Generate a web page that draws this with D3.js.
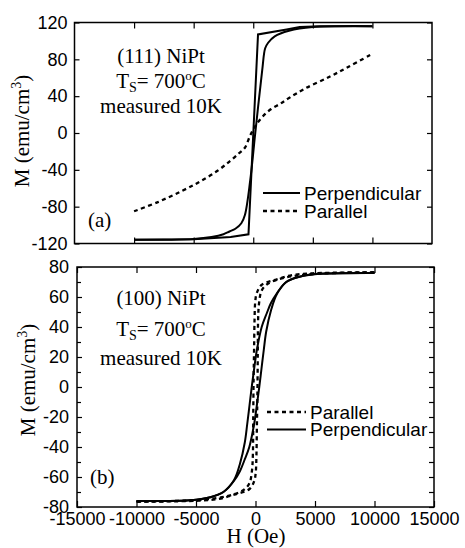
<!DOCTYPE html>
<meta charset="utf-8">
<head>
  <title>NiPt M-H loops</title>
</head>

<style>
body {
  margin: 0;
  background: #fff;
}
svg text { fill: #000; }
.tick text { font-family: "Liberation Sans", Arial, Helvetica, sans-serif; font-size: 18px; }
.serif { font-family: "Liberation Serif", "Times New Roman", serif; font-size: 21px; }
.legend { font-family: "Liberation Sans", Arial, Helvetica, sans-serif; font-size: 19px; }
</style>

<body>
  <div id="content">
    <svg width="465" height="548"></svg>
  </div>

  <script src="https://cdnjs.cloudflare.com/ajax/libs/d3/7.8.5/d3.min.js"></script>

  <script>
// field axis (Oe), shared by both panels
var hTicks = [-15000, -10000, -5000, 0, 5000, 10000, 15000];

// (a) (111) NiPt, M in emu/cm3
var mTicksA = [-120, -80, -40, 0, 40, 80, 120];
var perpA1 = [[10000, 116], [5600, 116], [3900, 115], [2800, 112.4], [400, 107], [-400, -110],
  [-1900, -113], [-5000, -115.5], [-10000, -116]];
var perpA2 = [[-10000, -116], [-5000, -115], [-3500, -113], [-2500, -110], [-2000, -107],
  [-1500, -104], [-1000, -98], [-700, -89], [-250, -51], [170, 0], [750, 68], [1000, 92],
  [1250, 98], [1800, 105], [3000, 111], [5000, 115], [10000, 116]];
var parA = [[-10000, -85], [-8000, -75], [-6000, -63], [-4500, -53], [-3000, -41], [-2000, -31],
  [-1200, -22], [-700, -16], [-300, -4], [0, 4], [300, 10], [800, 18], [1500, 26], [2300, 32],
  [3000, 38], [4300, 48], [6400, 61], [8000, 72], [10000, 86]];

// (b) (100) NiPt
var mTicksB = [-80, -60, -40, -20, 0, 20, 40, 60, 80];
var mMinorB = [-70, -50, -30, -10, 10, 30, 50, 70];
var perpBdown = [[10000, 76], [5000, 75.3], [3700, 73.5], [2600, 70.2], [1800, 62.5], [1300, 56],
  [940, 49], [520, 40], [100, 24], [-100, 13], [-300, 1], [-500, -12], [-700, -25], [-900, -37],
  [-1300, -51], [-1800, -62], [-2700, -70], [-3800, -73.5], [-5200, -75.3], [-10000, -76]];
var perpBup = [[-10000, -76], [-5200, -75.3], [-3800, -73.5], [-2700, -70], [-1800, -62.5],
  [-1300, -56], [-940, -49], [-520, -40], [-100, -24], [100, -13], [300, -1], [500, 12],
  [700, 25], [900, 37], [1300, 51], [1800, 62], [2600, 70], [3700, 73.5], [5200, 75.3], [10000, 76]];
var parBdown = [[10000, 76.5], [4800, 75.8], [3150, 74.7], [1800, 71.8], [500, 68], [100, 62.5],
  [-20, 57], [-80, 45], [-120, 25], [-160, 5], [-190, -20], [-220, -45], [-300, -56], [-500, -64],
  [-900, -68], [-1800, -71.5], [-3200, -74], [-5200, -75.5], [-10000, -76.5]];
var parBup = [[-10000, -76.5], [-4800, -75.8], [-3150, -74.7], [-1800, -71.8], [-500, -68],
  [-100, -62.5], [20, -57], [80, -45], [120, -25], [160, -5], [190, 20], [220, 45], [300, 56],
  [500, 64], [900, 68], [1800, 71.5], [3200, 74], [5200, 75.5], [10000, 76.5]];

var svg = d3.select('#content svg');
var plain = function(d) { return String(d); };

function frame(x, y) {
  svg.append('rect')
    .attr('x', x.range()[0]).attr('y', y.range()[1])
    .attr('width', x.range()[1] - x.range()[0])
    .attr('height', y.range()[0] - y.range()[1])
    .attr('fill', 'none').attr('stroke', '#000').attr('stroke-width', 1.5);
}

function clean(g) {
  g.select('.domain').remove();
  g.selectAll('.tick line').attr('stroke', '#000').attr('stroke-width', 1.2);
  g.attr('font-size', null).attr('font-family', null);
}

function curve(data, x, y, dashed, smooth) {
  var line = d3.line()
    .x(function(d) { return x(d[0]); })
    .y(function(d) { return y(d[1]); })
    .curve(smooth ? d3.curveCatmullRom.alpha(0.5) : d3.curveLinear);
  svg.append('path')
    .datum(data)
    .attr('d', line)
    .attr('fill', 'none')
    .attr('stroke', '#000')
    .attr('stroke-width', dashed ? 2.3 : 2)
    .attr('stroke-linejoin', 'miter')
    .attr('stroke-dasharray', dashed ? '4,3.5' : null);
}

function yTitle(cx, cy) {
  var t = svg.append('text').attr('class', 'serif')
    .attr('text-anchor', 'middle')
    .attr('transform', 'translate(' + cx + ',' + cy + ') rotate(-90)');
  t.append('tspan').text('M (emu/cm');
  t.append('tspan').attr('font-size', 14).attr('dy', -8).text('3');
  t.append('tspan').attr('dy', 8).text(')');
}

function notes(cx, ys, sample) {
  svg.append('text').attr('class', 'serif').attr('text-anchor', 'middle')
    .attr('x', cx).attr('y', ys[0]).text(sample + ' NiPt');
  var t = svg.append('text').attr('class', 'serif').attr('text-anchor', 'middle')
    .attr('x', cx).attr('y', ys[1]);
  t.append('tspan').text('T');
  t.append('tspan').attr('font-size', 14).attr('dy', 4).text('S');
  t.append('tspan').attr('dy', -4).text('= 700');
  t.append('tspan').attr('font-size', 13).attr('dy', -8).text('o');
  t.append('tspan').attr('dy', 8).text('C');
  svg.append('text').attr('class', 'serif').attr('text-anchor', 'middle')
    .attr('x', cx).attr('y', ys[2]).text('measured 10K');
}

function legendItem(x0, x1, y, label, dashed) {
  svg.append('line')
    .attr('x1', x0).attr('x2', x1).attr('y1', y).attr('y2', y)
    .attr('stroke', '#000').attr('stroke-width', dashed ? 2.3 : 2)
    .attr('stroke-dasharray', dashed ? '4,3.5' : null);
  svg.append('text').attr('class', 'legend')
    .attr('x', x1 + 4).attr('y', y + 6.8).text(label);
}

// ---------- panel (a) ----------
var xA = d3.scaleLinear().domain([-15000, 15000]).range([74.5, 432]);
var yA = d3.scaleLinear().domain([-120, 120]).range([243.5, 22.5]);
var inner = hTicks.slice(1, -1);

svg.append('g').attr('transform', 'translate(0,243.5)')
  .call(d3.axisBottom(xA).tickValues(inner).tickSizeInner(-6).tickSizeOuter(0).tickFormat(''))
  .call(clean);
svg.append('g').attr('transform', 'translate(0,22.5)')
  .call(d3.axisTop(xA).tickValues(inner).tickSizeInner(-6).tickSizeOuter(0).tickFormat(''))
  .call(clean);
svg.append('g').attr('transform', 'translate(74.5,0)')
  .call(d3.axisLeft(yA).tickValues(mTicksA).tickSizeInner(-5).tickSizeOuter(0).tickPadding(7).tickFormat(plain))
  .call(clean);
svg.append('g').attr('transform', 'translate(432,0)')
  .call(d3.axisRight(yA).tickValues(mTicksA).tickSizeInner(-5).tickSizeOuter(0).tickFormat(''))
  .call(clean);
frame(xA, yA);

curve(parA, xA, yA, true, true);
curve(perpA1, xA, yA, false, false);
curve(perpA2, xA, yA, false, true);

yTitle(29, 131);
notes(161, [63, 88, 113], '(111)');
svg.append('text').attr('class', 'serif').attr('x', 88).attr('y', 227).text('(a)');
legendItem(263, 300, 193, 'Perpendicular', false);
legendItem(263, 300, 211, 'Parallel', true);

// ---------- panel (b) ----------
var xB = d3.scaleLinear().domain([-15000, 15000]).range([77, 434]);
var yB = d3.scaleLinear().domain([-80, 80]).range([507, 267]);

svg.append('g').attr('transform', 'translate(0,507)')
  .call(d3.axisBottom(xB).tickValues(hTicks).tickSizeInner(-6).tickSizeOuter(0).tickPadding(5).tickFormat(plain))
  .call(clean);
svg.append('g').attr('transform', 'translate(0,267)')
  .call(d3.axisTop(xB).tickValues(hTicks).tickSizeInner(-6).tickSizeOuter(0).tickFormat(''))
  .call(clean);
svg.append('g').attr('transform', 'translate(77,0)')
  .call(d3.axisLeft(yB).tickValues(mTicksB).tickSizeInner(-5).tickSizeOuter(0).tickPadding(8).tickFormat(plain))
  .call(clean);
svg.append('g').attr('transform', 'translate(77,0)')
  .call(d3.axisLeft(yB).tickValues(mMinorB).tickSizeInner(-4).tickSizeOuter(0).tickFormat(''))
  .call(clean);
svg.append('g').attr('transform', 'translate(434,0)')
  .call(d3.axisRight(yB).tickValues(mTicksB.concat(mMinorB)).tickSizeInner(-5).tickSizeOuter(0).tickFormat(''))
  .call(clean);
frame(xB, yB);

curve(parBdown, xB, yB, true, true);
curve(parBup, xB, yB, true, true);
curve(perpBdown, xB, yB, false, true);
curve(perpBup, xB, yB, false, true);

yTitle(35, 380);
notes(161, [305, 336, 365], '(100)');
svg.append('text').attr('class', 'serif').attr('x', 90).attr('y', 484).text('(b)');
legendItem(267, 306, 412, 'Parallel', true);
legendItem(267, 306, 429.5, 'Perpendicular', false);

svg.append('text').attr('class', 'serif').attr('text-anchor', 'middle')
  .attr('font-size', 20)
  .attr('x', 256).attr('y', 543).text('H (Oe)');
  </script>
</body>
</html>
